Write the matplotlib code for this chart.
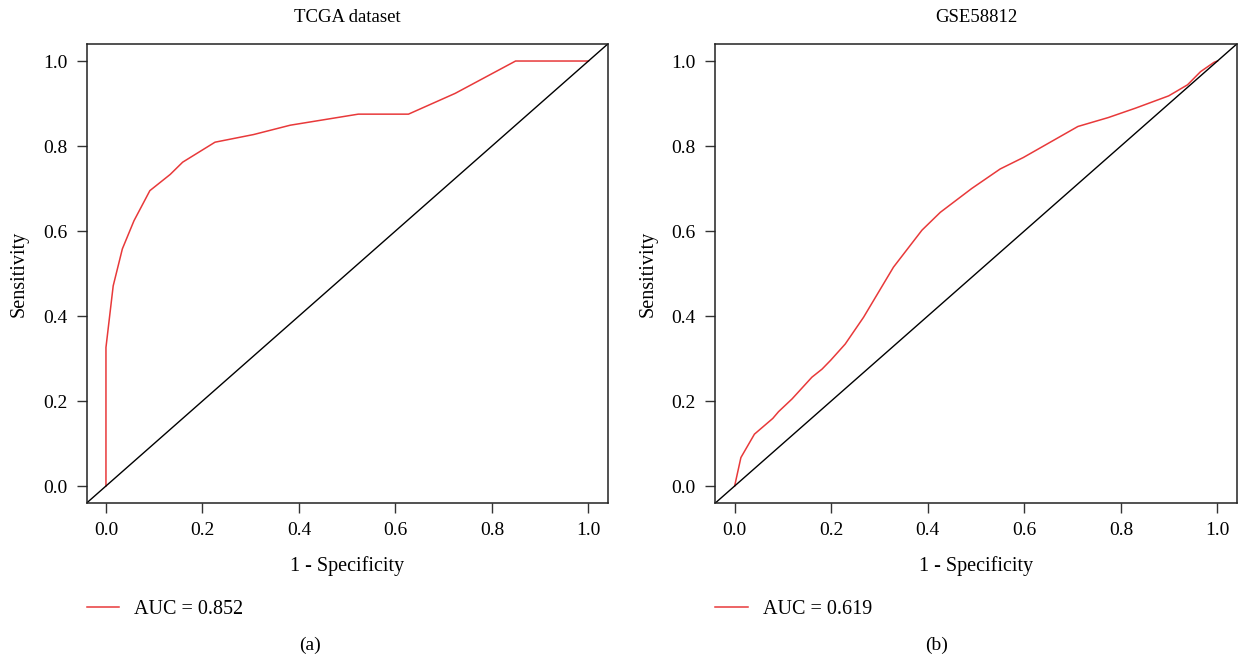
import numpy as np
import matplotlib
matplotlib.use("Agg")
import matplotlib.pyplot as plt

plt.rcParams['font.family'] = ['Liberation Serif', 'DejaVu Serif']
plt.rcParams['font.size'] = 13

# ROC curves (1 - specificity, sensitivity)
tcga_fpr = [0.0, 0.0, 0.015, 0.034, 0.058, 0.091, 0.133, 0.159, 0.226,
            0.306, 0.382, 0.523, 0.627, 0.724, 0.849, 1.0]
tcga_tpr = [0.0, 0.326, 0.471, 0.558, 0.624, 0.695, 0.733, 0.762, 0.809,
            0.827, 0.849, 0.875, 0.875, 0.924, 1.0, 1.0]

gse_fpr = [0.0, 0.013, 0.041, 0.079, 0.091, 0.119, 0.160, 0.181, 0.199,
           0.229, 0.267, 0.329, 0.388, 0.426, 0.491, 0.550, 0.598, 0.711,
           0.774, 0.830, 0.899, 0.938, 0.965, 0.993, 1.0]
gse_tpr = [0.0, 0.067, 0.122, 0.159, 0.175, 0.205, 0.256, 0.275, 0.296,
           0.334, 0.397, 0.515, 0.602, 0.644, 0.700, 0.746, 0.773, 0.846,
           0.867, 0.889, 0.918, 0.944, 0.975, 0.997, 1.0]

titles = ["TCGA dataset", "GSE58812"]
auc_labels = ["AUC = 0.852", "AUC = 0.619"]
panel_tags = ["(a)", "(b)"]
ticks = [0.0, 0.2, 0.4, 0.6, 0.8, 1.0]

red = '#E8393A'

fig = plt.figure(figsize=(12.38, 6.59), dpi=100)
ax1 = fig.add_axes([0.0700, 0.2367, 0.4209, 0.6965])
ax2 = fig.add_axes([0.5778, 0.2367, 0.4212, 0.6965])

curves = [(tcga_fpr, tcga_tpr), (gse_fpr, gse_tpr)]
for ax, (fpr, tpr), title, lab in zip([ax1, ax2], curves, titles, auc_labels):
    ax.plot(fpr, tpr, color=red, lw=1.1, label=lab)
    ax.axline((0, 0), (1, 1), color='black', lw=1.0)
    ax.set_xlim(-0.04, 1.04)
    ax.set_ylim(-0.04, 1.04)
    ax.set_xticks(ticks)
    ax.set_yticks(ticks)
    ax.set_xticklabels([f"{t:.1f}" for t in ticks])
    ax.set_yticklabels([f"{t:.1f}" for t in ticks])
    ax.tick_params(length=7, width=1.0, color='#333333', pad=7, labelsize=14)
    for s in ax.spines.values():
        s.set_linewidth(1.1)
        s.set_color('#222222')
    ax.set_title(title, fontsize=13.5, pad=16)
    ax.set_xlabel("1 - Specificity", fontsize=14.5, labelpad=12)
    ax.set_ylabel("Sensitivity", fontsize=14.5, labelpad=10)
    ax.legend(loc='center left', bbox_to_anchor=(0.0, -0.231), frameon=False,
              borderpad=0, borderaxespad=0, handlelength=1.6,
              handletextpad=0.75, fontsize=14.5)

fig.text(310 / 1238, 1 - 645 / 659, panel_tags[0], ha='center', va='center', fontsize=14)
fig.text(937 / 1238, 1 - 645 / 659, panel_tags[1], ha='center', va='center', fontsize=14)

fig.savefig("out.png", dpi=100)
